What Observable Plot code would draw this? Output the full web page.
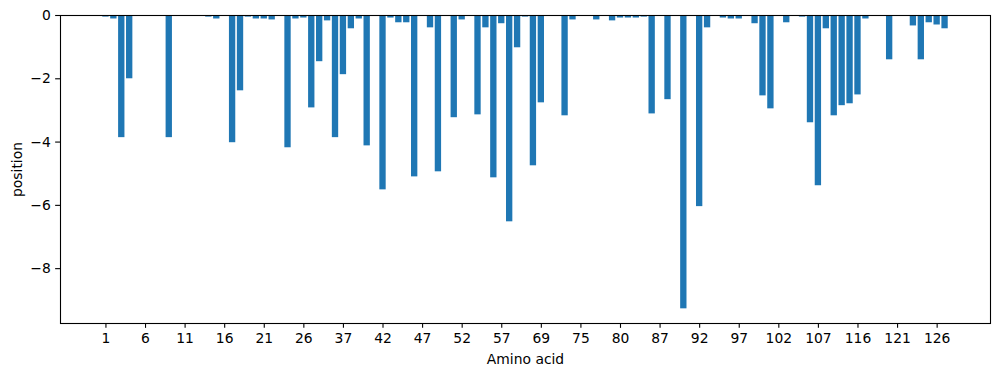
<!DOCTYPE html>
<html><head><meta charset="utf-8">
<script src="https://cdn.jsdelivr.net/npm/d3@7"></script>
<script src="https://cdn.jsdelivr.net/npm/@observablehq/plot@0.6"></script>
<style>html,body{margin:0;padding:0;background:#fff} svg{display:block}</style>
</head><body><div id="chart"></div>
<script>
const aminoAcids = [
  "1","2","3","4","5","6","7","8","9","10",
  "11","12","13","14","15","16","17","18","19","20",
  "21","22","23","24","25","26","27","28","29","30",
  "37","38","39","40","41","42","43","44","45","46",
  "47","48","49","50","51","52","53","54","55","56",
  "57","58","59","60","61","69","70","71","73","74",
  "75","76","77","78","79","80","81","83","84","85",
  "87","88","89","90","91","92","93","94","95","96",
  "97","98","99","100","101","102","103","104","105","106",
  "107","108","109","110","113","116","117","118","119","120",
  "121","122","123","124","125","126","127"
];
const positions = [
  -0.05,-0.11,-3.86,-2.00,0,0,0,0,-3.86,0,
  0,0,0,-0.05,-0.11,0,-4.02,-2.38,-0.05,-0.11,
  -0.11,-0.14,0,-4.18,-0.11,-0.08,-2.92,-1.46,-0.17,-3.86,
  -1.87,-0.42,-0.11,-4.12,0,-5.51,-0.08,-0.23,-0.23,-5.10,
  0,-0.39,-4.94,0,-3.23,-0.14,0,-3.14,-0.39,-5.13,
  -0.26,-6.52,-1.02,-0.05,-4.75,-2.76,0,0,-3.17,-0.14,
  0,0,-0.14,0,-0.17,-0.08,-0.08,-0.08,-0.05,-3.11,
  0,-2.66,0,-9.27,0,-6.04,-0.39,0,-0.08,-0.11,
  -0.11,0,-0.26,-2.54,-2.95,0,-0.23,0,-0.05,-3.39,
  -5.38,-0.42,-3.17,-2.85,-2.79,-2.51,-0.11,0,0,-1.40,
  0,0,-0.33,-1.40,-0.23,-0.30,-0.42
];
const xTickLabels = ["1","6","11","16","21","26","37","42","47","52","57","69","75","80","87","92","97","102","107","116","121","126"];
const yTicks = [0,-2,-4,-6,-8];

const data = aminoAcids.map((a, i) => ({aa: a, position: positions[i]}));

const chart = Plot.plot({
  width: 999, height: 376,
  marginLeft: 60, marginRight: 9, marginTop: 15, marginBottom: 53,
  style: {fontFamily: "'DejaVu Sans', sans-serif", fontSize: "13.89px", background: "#fff", color: "#000"},
  x: {type: "band", domain: aminoAcids, paddingInner: 0.2, paddingOuter: 5.34, align: 0.5},
  y: {domain: [d3.min(positions) * 1.05, 0]},
  marks: [
    Plot.barY(data, {x: "aa", y1: 0, y2: "position", fill: "#1f77b4"}),
    Plot.frame({stroke: "#000", strokeWidth: 1.1}),
    Plot.axisX({ticks: xTickLabels, tickSize: 4.86, tickPadding: 4.86, strokeWidth: 1.1,
      label: "Amino acid", labelAnchor: "center", labelOffset: 40, labelArrow: "none"}),
    Plot.axisY({ticks: yTicks, tickSize: 4.86, tickPadding: 4.86, strokeWidth: 1.1,
      tickFormat: d => d === 0 ? "0" : "\u2212" + Math.abs(d),
      label: "position", labelAnchor: "center", labelOffset: 48, labelArrow: "none"})
  ]
});
document.getElementById("chart").appendChild(chart);
</script>
</body></html>
